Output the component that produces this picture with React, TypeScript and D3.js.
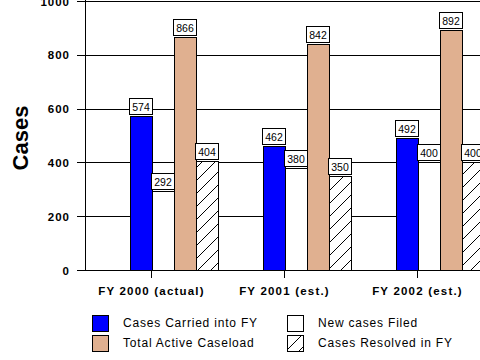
import React from "react";
import * as d3 from "d3";

const categories = ["FY 2000 (actual)", "FY 2001 (est.)", "FY 2002 (est.)"];
const seriesNames = ["Cases Carried into FY", "New cases Filed", "Total Active Caseload", "Cases Resolved in FY"];
const carried = [574, 462, 492];
const filed = [292, 380, 400];
const active = [866, 842, 892];
const resolved = [404, 350, 400];
const yTicks = [0, 200, 400, 600, 800, 1000];

const seriesValues = [carried, filed, active, resolved];
const fills = ["#0000FF", "#FFFFFF", "#E0B090", "url(#hatch)"];

const W = 480;
const H = 360;

export default function App() {
  const x = d3.scaleBand<string>().domain(categories).range([85, 484]).padding(0);
  const y = d3.scaleLinear().domain([0, 1000]).range([270, 1]);
  const inner = d3.scaleBand<string>().domain(seriesNames).range([-22, 66]).padding(0);
  const bw = inner.bandwidth();

  const tickFont = { fontFamily: "'Liberation Sans', Arial, sans-serif", fontWeight: 700 as const };

  const legendPos = [
    { x: 92, y: 315 },
    { x: 287, y: 315 },
    { x: 92, y: 335 },
    { x: 287, y: 335 },
  ];
  const legendOrder = [0, 1, 2, 3];

  return (
    <svg width={W} height={H} style={{ position: "absolute", left: 0, top: 0, display: "block" }}>
      <defs>
        <pattern id="hatch" patternUnits="userSpaceOnUse" width={13} height={13}>
          <rect width={13} height={13} fill="#fff" />
          <path d="M0,13 L13,0 M-3,3 L3,-3 M10,16 L16,10" stroke="#000" strokeWidth={1} />
        </pattern>
      </defs>
      <rect width={W} height={H} fill="#fff" />
      {/* gridlines */}
      {yTicks.filter((t) => t > 0).map((t) => (
        <line key={"g" + t} x1={85} x2={W} y1={Math.round(y(t)) + 0.5} y2={Math.round(y(t)) + 0.5} stroke="#000" strokeWidth={1} />
      ))}
      {/* y ticks and labels */}
      {yTicks.map((t) => (
        <g key={"t" + t}>
          <line x1={77} x2={85} y1={Math.round(y(t)) + 0.5} y2={Math.round(y(t)) + 0.5} stroke="#000" />
          <text x={70} y={y(t) + 4.5} textAnchor="end" fontSize={11.5} letterSpacing={1} style={tickFont}>
            {t}
          </text>
        </g>
      ))}
      {/* y axis line */}
      <line x1={85.5} x2={85.5} y1={0} y2={270} stroke="#000" />
      {/* bars */}
      {categories.map((c, ci) => {
        const cx = (x(c) ?? 0) + x.bandwidth() / 2;
        return (
          <g key={c}>
            {seriesNames.map((s, si) => {
              const v = seriesValues[si][ci];
              const bx = Math.round(cx + (inner(s) ?? 0)) + 0.5;
              const top = Math.round(y(v)) + 0.5;
              return (
                <rect key={s} x={bx} y={top} width={bw} height={270.5 - top} fill={fills[si]} stroke="#000" strokeWidth={1} />
              );
            })}
          </g>
        );
      })}
      {/* value labels */}
      {categories.map((c, ci) => {
        const cx = (x(c) ?? 0) + x.bandwidth() / 2;
        return (
          <g key={"l" + c}>
            {seriesNames.map((s, si) => {
              const v = seriesValues[si][ci];
              const mid = cx + (inner(s) ?? 0) + bw / 2;
              const bottom = Math.round(y(v)) - 1;
              return (
                <g key={s}>
                  <rect x={Math.round(mid - 11.5) + 0.5} y={bottom - 16.5} width={23} height={16} fill="#fff" stroke="#000" />
                  <text x={mid + 0.5} y={bottom - 4.5} textAnchor="middle" fontSize={10.5} fontFamily="'Liberation Sans', Arial, sans-serif">
                    {v}
                  </text>
                </g>
              );
            })}
          </g>
        );
      })}
      {/* x axis */}
      <line x1={77} x2={W} y1={270.5} y2={270.5} stroke="#000" />
      {categories.map((c) => {
        const cx = Math.round((x(c) ?? 0) + x.bandwidth() / 2) - 0.5;
        return (
          <g key={"x" + c}>
            <line x1={cx} x2={cx} y1={270} y2={278} stroke="#000" />
            <text x={cx} y={295} textAnchor="middle" fontSize={11.5} letterSpacing={1.2} style={tickFont}>
              {c}
            </text>
          </g>
        );
      })}
      {/* y title */}
      <text transform="translate(28,138) rotate(-90)" textAnchor="middle" fontSize={22} fontWeight={700} fontFamily="'Liberation Sans', Arial, sans-serif">
        Cases
      </text>
      {/* legend */}
      {legendOrder.map((si, i) => (
        <g key={"lg" + si}>
          <rect x={legendPos[i].x + 0.5} y={legendPos[i].y + 0.5} width={16} height={16} fill={fills[si]} stroke="#000" />
          <text x={legendPos[i].x + 31} y={legendPos[i].y + 12} fontSize={12} letterSpacing={0.8} fontFamily="'Liberation Sans', Arial, sans-serif">
            {seriesNames[si]}
          </text>
        </g>
      ))}
    </svg>
  );
}
